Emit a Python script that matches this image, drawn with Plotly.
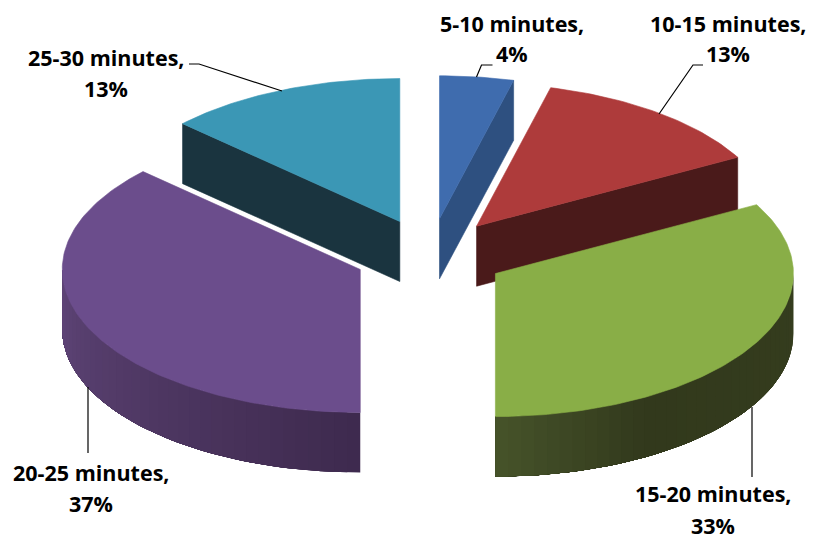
import math
import plotly.graph_objects as go

# --- chart data ---
categories = ["5-10 minutes", "10-15 minutes", "15-20 minutes", "20-25 minutes", "25-30 minutes"]
values = [4, 13, 33, 37, 13]

# --- styles and projection ---
top_colors = ["#3f6cae", "#ae3b3b", "#89ae47", "#6b4d8c", "#3b97b5"]
face_colors = ["#2e5080", "#4a1a1a", "#32391c", "#3e2a4e", "#1a343f"]
wall_stops = {2: [(90, "#353d1e"), (150, "#32391c"), (180, "#46532a")],
              3: [(180, "#3e2a4e"), (270, "#5f4578")]}
CX, CY, RX, RY, DEPTH, EXPLODE = 430, 255, 298, 143, 60, 0.255
FONT = "Open Sans"
label_pos = [(512, 23, 53), (728, 23, 53), (713, 493, 525), (91, 472, 503), (106, 57, 88)]
leaders = [[(476.5, 77), (481.5, 65), (492.5, 65)],
           [(659, 114), (693, 65), (703, 65)],
           [(752, 407), (752, 477)],
           [(88, 387), (88, 453)],
           [(282, 91), (199, 64), (189, 64)]]
draw_order = [0, 4, 1, 3, 2]


def hex_mix(c1, c2, t):
    a = [int(c1[i:i + 2], 16) for i in (1, 3, 5)]
    b = [int(c2[i:i + 2], 16) for i in (1, 3, 5)]
    return "#%02x%02x%02x" % tuple(round(p + (q - p) * t) for p, q in zip(a, b))


def stop_color(stops, ang):
    for (a0, c0), (a1, c1) in zip(stops, stops[1:]):
        if a0 <= ang <= a1:
            return hex_mix(c0, c1, (ang - a0) / (a1 - a0))
    return stops[-1][1]


def pt(ax, ay, deg):
    r = math.radians(deg)
    return ax + RX * math.sin(r), ay - RY * math.cos(r)


def poly(fig, pts, color, edge=0.6):
    xs = [p[0] for p in pts] + [pts[0][0]]
    ys = [p[1] for p in pts] + [pts[0][1]]
    fig.add_trace(go.Scatter(x=xs, y=ys, mode="lines", fill="toself", fillcolor=color,
                             line=dict(color=color, width=edge), hoverinfo="skip", showlegend=False))


total = sum(values)
angles = [0]
for v in values:
    angles.append(angles[-1] + 360 * v / total)

fig = go.Figure()
for i in draw_order:
    a0, a1 = angles[i], angles[i + 1]
    mid = math.radians((a0 + a1) / 2)
    ax = CX + EXPLODE * RX * math.sin(mid)
    ay = CY - EXPLODE * RY * math.cos(mid)
    apex_low = (ax, ay + DEPTH)
    # cut faces turned towards the viewer
    if 0 < a1 < 180:
        p = pt(ax, ay, a1)
        poly(fig, [(ax, ay), p, (p[0], p[1] + DEPTH), apex_low], face_colors[i])
    if 180 < a0 < 360:
        p = pt(ax, ay, a0)
        poly(fig, [(ax, ay), p, (p[0], p[1] + DEPTH), apex_low], face_colors[i])
    # outer wall: each band runs to the far end and is overpainted by the next one, so no seams show
    w0, w1 = max(a0, 90), min(a1, 270)
    if w1 > w0:
        n = int((w1 - w0) / 2.5)
        for k in range(n):
            s0 = w0 + (w1 - w0) * k / n
            s_mid = s0 + (w1 - w0) / (2 * n)
            m = max(4, int((w1 - s0) / 2))
            arc = [pt(ax, ay, s0 + (w1 - s0) * j / m) for j in range(m + 1)]
            low = [(x, y + DEPTH) for x, y in reversed(arc)]
            poly(fig, arc + low, stop_color(wall_stops[i], s_mid), edge=0)
    # top surface
    steps = max(8, int(a1 - a0))
    arc = [pt(ax, ay, a0 + (a1 - a0) * j / steps) for j in range(steps + 1)]
    poly(fig, [(ax, ay)] + arc, top_colors[i])

for path in leaders:
    fig.add_trace(go.Scatter(x=[p[0] for p in path], y=[p[1] for p in path], mode="lines",
                             line=dict(color="#000000", width=1.2), hoverinfo="skip", showlegend=False))

for cat, v, (lx, y1, y2) in zip(categories, values, label_pos):
    for text, ly in ((cat + ",", y1), (f"{v}%", y2)):
        fig.add_annotation(x=lx, y=ly, text=f"<b>{text}</b>", showarrow=False,
                           xanchor="center", yanchor="middle",
                           font=dict(family=FONT, size=21.5, color="#000000"))

fig.update_xaxes(range=[0, 813], visible=False, fixedrange=True)
fig.update_yaxes(range=[539, 0], visible=False, fixedrange=True)
fig.update_layout(width=813, height=539, margin=dict(l=0, r=0, t=0, b=0),
                  paper_bgcolor="white", plot_bgcolor="white", showlegend=False)
fig.write_html("out.html", post_script="document.body.style.margin='0';",
               config={"displayModeBar": False})
